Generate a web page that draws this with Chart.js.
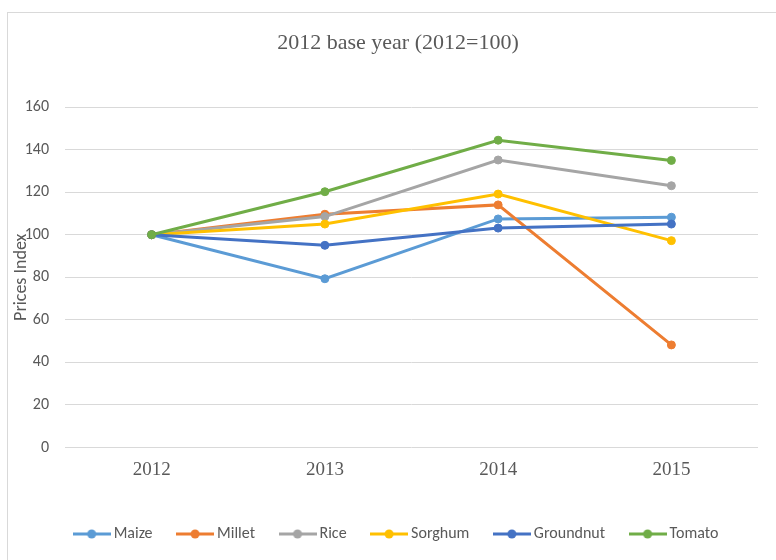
<!DOCTYPE html>
<html>
<head>
<meta charset="utf-8">
<title>2012 base year (2012=100)</title>
<script src="https://cdn.jsdelivr.net/npm/chart.js@4.4.1/dist/chart.umd.min.js"></script>
<style>
  html, body { margin: 0; padding: 0; background: #fff; overflow: hidden; }
  .frame {
    position: absolute; left: 7px; top: 12px;
    width: 900px; height: 700px;
    border: 1px solid #d9d9d9;
  }
  #myChart { position: absolute; left: 0; top: 0; }
</style>
</head>
<body>
<div class="frame"></div>
<canvas id="myChart" width="800" height="560"></canvas>
<script>
// values (index, 2012 = 100)
const years = ["2012", "2013", "2014", "2015"];
const maize = [100, 79.3, 107.4, 108.2];
const millet = [100, 109.6, 114, 48.2];
const rice = [100, 108.5, 135.1, 123];
const sorghum = [100, 105, 119.1, 97.2];
const groundnut = [100, 95, 103.1, 105];
const tomato = [100, 120.2, 144.4, 134.9];

const seriesNames = ["Maize", "Millet", "Rice", "Sorghum", "Groundnut", "Tomato"];
const seriesValues = [maize, millet, rice, sorghum, groundnut, tomato];
const seriesColors = ["#5B9BD5", "#ED7D31", "#A5A5A5", "#FFC000", "#4472C4", "#70AD47"];

const yTicks = { min: 0, max: 160, step: 20 };

const textColor = "#595959";
const serif = "'Times New Roman', 'Liberation Serif', serif";
const sans = "Calibri, Carlito, 'Liberation Sans', Arial, sans-serif";

// little line + dot swatch for the legend, like the office style
function legendSwatch(color) {
  const c = document.createElement("canvas");
  c.width = 38;
  c.height = 10;
  const g = c.getContext("2d");
  g.strokeStyle = color;
  g.lineWidth = 3;
  g.beginPath();
  g.moveTo(0, 5);
  g.lineTo(38, 5);
  g.stroke();
  g.fillStyle = color;
  g.beginPath();
  g.arc(19, 5, 4.5, 0, Math.PI * 2);
  g.fill();
  return c;
}
const swatches = seriesColors.map(legendSwatch);

const datasets = seriesNames.map((name, i) => ({
  label: name,
  data: seriesValues[i],
  borderColor: seriesColors[i],
  backgroundColor: seriesColors[i],
  pointBackgroundColor: seriesColors[i],
  pointBorderColor: seriesColors[i],
  borderWidth: 3,
  pointRadius: 4,
  pointBorderWidth: 1,
  tension: 0,
  yAxisID: "y",
  // later series on top
  order: seriesNames.length - i,
}));

const chart = new Chart(document.getElementById("myChart"), {
  type: "line",
  data: { labels: years, datasets: datasets },
  options: {
    responsive: false,
    animation: false,
    devicePixelRatio: 1,
    layout: { padding: { left: 0, right: 4, top: 0, bottom: 8 } },
    plugins: {
      title: {
        display: true,
        text: "2012 base year (2012=100)",
        color: textColor,
        font: { family: serif, size: 22, weight: "normal" },
        padding: { top: 29.8, bottom: 50.8 },
      },
      legend: {
        position: "bottom",
        labels: {
          usePointStyle: true,
          pointStyleWidth: 28,
          padding: 28.5,
          color: textColor,
          font: { family: sans, size: 16 },
          generateLabels(c) {
            const items = Chart.defaults.plugins.legend.labels.generateLabels(c);
            items.forEach((it) => {
              it.pointStyle = swatches[it.datasetIndex];
            });
            return items;
          },
          sort: (a, b) => a.datasetIndex - b.datasetIndex,
        },
      },
      tooltip: { enabled: false },
    },
    scales: {
      x: {
        offset: true,
        grid: { display: false, drawTicks: false },
        border: { display: false },
        ticks: {
          color: textColor,
          padding: 11,
          font: { family: serif, size: 19 },
        },
        afterFit(scale) {
          scale.height = 50;
        },
      },
      y: {
        min: yTicks.min,
        max: yTicks.max,
        grid: { color: "#d9d9d9", lineWidth: 1, drawTicks: false },
        border: { display: false },
        ticks: {
          stepSize: yTicks.step,
          color: textColor,
          padding: 16,
          font: { family: sans, size: 16 },
        },
        title: {
          display: true,
          text: "Prices Index",
          color: textColor,
          font: { family: sans, size: 18 },
          padding: { top: 10.7, bottom: 0 },
        },
        afterFit(scale) {
          scale.width = 65;
        },
      },
      // empty right-hand strip so the title and legend sit centred on the frame
      yRight: {
        position: "right",
        grid: { display: false, drawTicks: false },
        border: { display: false },
        ticks: { display: false },
        afterFit(scale) {
          scale.width = 38;
        },
      },
    },
  },
});
</script>
</body>
</html>
